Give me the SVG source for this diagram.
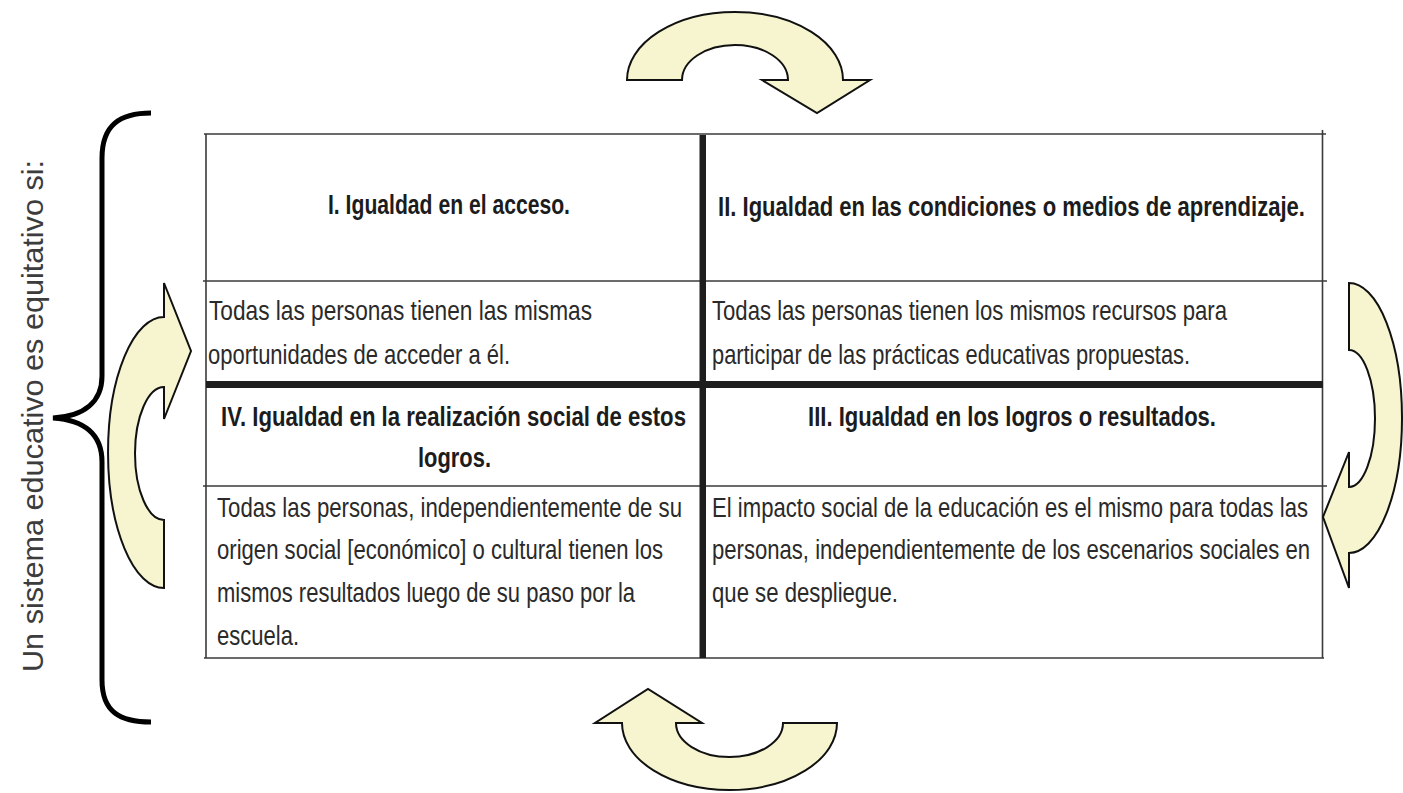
<svg xmlns="http://www.w3.org/2000/svg" width="1403" height="793" viewBox="0 0 1403 793">
<style>
.bg{fill:#ffffff}
.grid{stroke:#3a3a3a;stroke-width:1.6;fill:none}
.thick{fill:#1e1e1e}
.hd{font-family:"Liberation Sans",Arial,sans-serif;font-weight:bold;font-size:21.5px;fill:#1c1c1c}
.bd{font-family:"Liberation Sans",Arial,sans-serif;font-size:22.5px;fill:#2a2a2a}
.side{font-family:"Liberation Sans",Arial,sans-serif;font-size:29px;fill:#3c3c3c}
.arrow{fill:#f6f5cf;stroke:#111;stroke-width:2;stroke-linejoin:miter}
.brace{fill:none;stroke:#000;stroke-width:5;stroke-linecap:butt}
</style>
<rect class="bg" x="0" y="0" width="1403" height="793"/>

<g id="side-label">
  <text class="side" transform="translate(43,416) rotate(-90)" x="0" y="0" text-anchor="middle" textLength="512" lengthAdjust="spacingAndGlyphs">Un sistema educativo es equitativo si:</text>
</g>

<g id="brace">
  <path class="brace" d="M151,113 C120,113 102,125 102,158 L102,376 C102,402 84,416 53,418 C84,420 102,434 102,462 L102,680 C102,712 120,722 151,722"/>
</g>

<g id="table-grid">
  <line class="grid" x1="204" y1="134" x2="1326" y2="134"/>
  <line class="grid" x1="203" y1="281" x2="1327" y2="281"/>
  <line class="grid" x1="203" y1="486" x2="1327" y2="486"/>
  <line class="grid" x1="204" y1="658" x2="1324" y2="658"/>
  <line class="grid" x1="206" y1="134" x2="206" y2="658"/>
  <line class="grid" x1="1322.5" y1="130" x2="1322.5" y2="658"/>
  <rect class="thick" x="206" y="381" width="1117" height="7"/>
  <rect class="thick" x="699.5" y="135" width="6.5" height="523"/>
</g>

<g id="node-I">
  <text class="hd" transform="translate(328,214) scale(1,1.25)" textLength="242" lengthAdjust="spacingAndGlyphs">I. Igualdad en el acceso.</text>
  <text class="bd" transform="translate(209,320) scale(1,1.25)" textLength="383" lengthAdjust="spacingAndGlyphs">Todas las personas tienen las mismas</text>
  <text class="bd" transform="translate(208,364) scale(1,1.25)" textLength="302" lengthAdjust="spacingAndGlyphs">oportunidades de acceder a él.</text>
</g>

<g id="node-II">
  <text class="hd" transform="translate(718,216) scale(1,1.25)" textLength="587" lengthAdjust="spacingAndGlyphs">II. Igualdad en las condiciones o medios de aprendizaje.</text>
  <text class="bd" transform="translate(712,320) scale(1,1.25)" textLength="515" lengthAdjust="spacingAndGlyphs">Todas las personas tienen los mismos recursos para</text>
  <text class="bd" transform="translate(712,364) scale(1,1.25)" textLength="478" lengthAdjust="spacingAndGlyphs">participar de las prácticas educativas propuestas.</text>
</g>

<g id="node-IV">
  <text class="hd" transform="translate(221,426) scale(1,1.25)" textLength="465" lengthAdjust="spacingAndGlyphs">IV. Igualdad en la realización social de estos</text>
  <text class="hd" transform="translate(418,467) scale(1,1.25)" textLength="73" lengthAdjust="spacingAndGlyphs">logros.</text>
  <text class="bd" transform="translate(217,517) scale(1,1.25)" textLength="465" lengthAdjust="spacingAndGlyphs">Todas las personas, independientemente de su</text>
  <text class="bd" transform="translate(217,559) scale(1,1.25)" textLength="446" lengthAdjust="spacingAndGlyphs">origen social [económico] o cultural tienen los</text>
  <text class="bd" transform="translate(217,602) scale(1,1.25)" textLength="418" lengthAdjust="spacingAndGlyphs">mismos resultados luego de su paso por la</text>
  <text class="bd" transform="translate(217,645) scale(1,1.25)" textLength="82" lengthAdjust="spacingAndGlyphs">escuela.</text>
</g>

<g id="node-III">
  <text class="hd" transform="translate(808,426) scale(1,1.25)" textLength="408" lengthAdjust="spacingAndGlyphs">III. Igualdad en los logros o resultados.</text>
  <text class="bd" transform="translate(712,517) scale(1,1.25)" textLength="596" lengthAdjust="spacingAndGlyphs">El impacto social de la educación es el mismo para todas las</text>
  <text class="bd" transform="translate(712,559) scale(1,1.25)" textLength="598" lengthAdjust="spacingAndGlyphs">personas, independientemente de los escenarios sociales en</text>
  <text class="bd" transform="translate(712,602) scale(1,1.25)" textLength="186" lengthAdjust="spacingAndGlyphs">que se despliegue.</text>
</g>

<g id="connectors">
  <path id="arrow-top" class="arrow" d="M627,80 A108,68 0 0 1 843,80 L870,80 L817,113 L762,80 L788,80 A53,35 0 0 0 682,80 Z"/>
  <path id="arrow-right" class="arrow" d="M1349,283 A53,135 0 0 1 1349,553 L1349,588 L1323,517 L1349,452 L1349,487 A26,68.5 0 0 0 1349,350 Z"/>
  <path id="arrow-bottom" class="arrow" d="M622,723 L595,723 L648,689 L702,723 L676,723 A53.5,34 0 0 0 783,723 L837,723 A107.5,67 0 0 1 622,723 Z"/>
  <path id="arrow-left" class="arrow" d="M164,588 A56,135.5 0 0 1 164,317 L164,283 L191,351 L164,419 L164,387 A29,66.5 0 0 0 164,520 Z"/>
</g>
</svg>
